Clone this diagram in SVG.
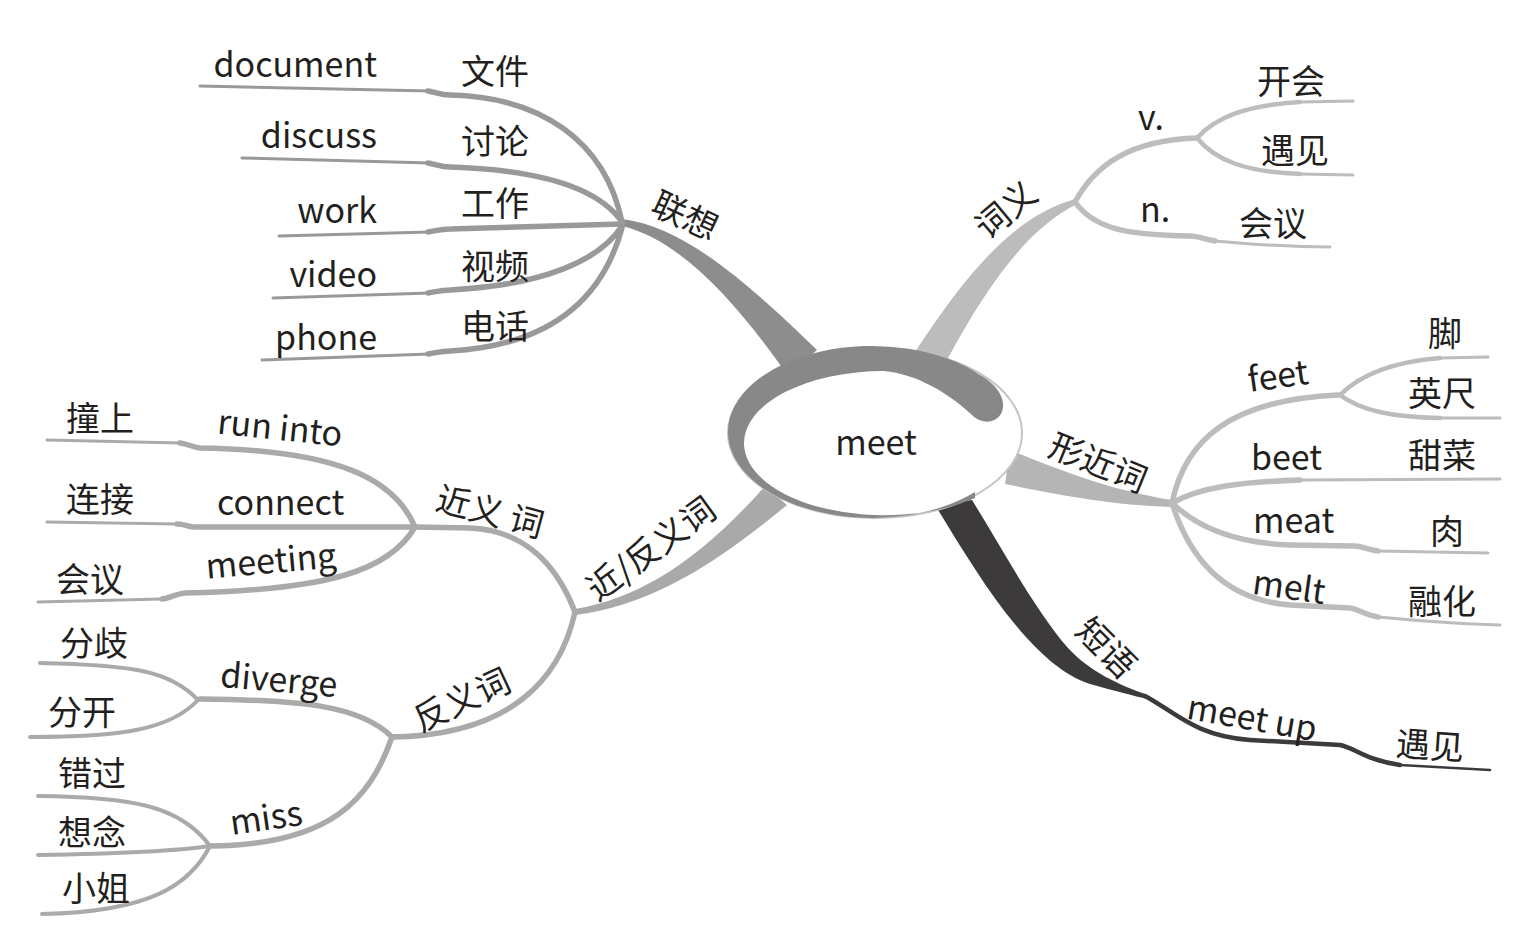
<svg xmlns="http://www.w3.org/2000/svg" width="1523" height="941" viewBox="0 0 1523 941">
<style>
text{font-family:"Noto Sans CJK SC","Noto Sans",sans-serif;font-size:34px;fill:#231f20}
.mid{text-anchor:middle}
.end{text-anchor:end}
.ln{fill:none;stroke-linecap:round;stroke-linejoin:round}
.g1{stroke:#999999}
.g2{stroke:#bdbdbd}
.g3{stroke:#bcbcbc}
.g4{stroke:#aaaaaa}
.tk{stroke-width:5.5}
.tn{stroke-width:3}
</style>
<rect width="1523" height="941" fill="#ffffff"/>
<g id="connectors">
  <path d="M622 219 C680 226 740 275 817 350 L788 376 C735 300 680 240 622 226 Z" fill="#8d8d8d"/>
  <path d="M1075 199 C1020 215 975 260 915 352 L947 360 C990 280 1030 228 1075 205 Z" fill="#bcbcbc"/>
  <path d="M1172 500 C1110 490 1060 470 1010 450 L1005 484 C1060 495 1110 505 1172 507 Z" fill="#b5b5b5"/>
  <path d="M935 505 C975 570 1030 665 1090 684 C1115 691 1135 696 1147 699 L1145 694 C1120 685 1090 672 1068 648 C1035 610 1003 550 972 500 Z" fill="#3c3a3b"/>
  <path d="M1145 696 C1175 712 1195 736 1250 740 L1340 745 C1355 748 1365 760 1400 765" class="ln" stroke="#3c3a3b" stroke-width="4.5"/>
  <path d="M1400 765 L1490 770" class="ln" stroke="#3c3a3b" stroke-width="2.5"/>
  <path d="M575 609 C640 598 700 560 765 486 L787 505 C710 568 650 605 575 615 Z" fill="#a9a9a9"/>

  <path class="ln g1 tn" d="M200 86 L430 91"/>
  <path class="ln g1 tk" d="M428 91 C436 92 440 95 450 95 C540 97 605 140 622 222"/>
  <path class="ln g1 tn" d="M242 158 L430 163"/>
  <path class="ln g1 tk" d="M428 163 C436 164 440 167 450 167 C545 170 600 190 622 222"/>
  <path class="ln g1 tn" d="M279 236 L430 232"/>
  <path class="ln g1 tk" d="M428 232 C436 231 440 229 450 229 L622 224"/>
  <path class="ln g1 tn" d="M273 298 L430 293"/>
  <path class="ln g1 tk" d="M428 293 C436 292 440 290 450 290 C545 285 600 260 622 226"/>
  <path class="ln g1 tn" d="M262 360 L430 354"/>
  <path class="ln g1 tk" d="M428 354 C436 353 440 351 450 351 C560 345 605 290 622 228"/>

  <path class="ln g2 tk" d="M1075 202 C1095 165 1130 140 1197 138"/>
  <path class="ln g2" stroke-width="4.5" d="M1197 138 C1215 118 1245 105 1300 102"/>
  <path class="ln g2 tn" d="M1300 102 L1353 101"/>
  <path class="ln g2" stroke-width="4.5" d="M1197 138 C1215 160 1245 172 1300 174"/>
  <path class="ln g2 tn" d="M1300 174 L1353 175"/>
  <path class="ln g2 tk" d="M1075 202 C1095 230 1130 235 1190 236 C1200 236 1205 240 1215 241"/>
  <path class="ln g2 tn" d="M1215 241 C1260 245 1300 247 1330 247"/>

  <path class="ln g3 tk" d="M1172 503 C1185 440 1230 400 1338 395"/>
  <path class="ln g3" stroke-width="4.5" d="M1340 395 C1360 375 1390 362 1440 358"/>
  <path class="ln g3 tn" d="M1440 358 L1488 357"/>
  <path class="ln g3" stroke-width="4.5" d="M1340 395 C1360 410 1390 417 1440 418"/>
  <path class="ln g3 tn" d="M1440 418 L1500 418"/>
  <path class="ln g3 tk" d="M1172 503 C1200 487 1240 482 1300 480"/>
  <path class="ln g3 tn" d="M1300 480 L1500 479"/>
  <path class="ln g3 tk" d="M1172 503 C1195 525 1230 543 1290 545 L1355 546 C1362 546 1368 550 1378 551"/>
  <path class="ln g3 tn" d="M1378 551 L1488 553"/>
  <path class="ln g3 tk" d="M1172 503 C1190 560 1225 600 1290 605 L1350 608 C1358 609 1365 615 1378 617"/>
  <path class="ln g3 tn" d="M1378 617 C1420 621 1460 624 1500 625"/>

  <path class="ln g4 tk" d="M575 612 C555 560 520 530 470 528 L415 527"/>
  <path class="ln g4 tk" d="M415 527 C395 480 340 450 200 448 C192 447 188 444 180 443"/>
  <path class="ln g4 tn" d="M180 443 L47 440"/>
  <path class="ln g4 tk" d="M415 527 L195 527 C188 527 185 524 177 524"/>
  <path class="ln g4 tn" d="M177 524 L47 522"/>
  <path class="ln g4 tk" d="M415 527 C390 570 330 590 185 593 C175 594 170 598 162 599"/>
  <path class="ln g4 tn" d="M162 599 L38 602"/>
  <path class="ln g4 tk" d="M575 612 C560 680 510 735 392 737"/>
  <path class="ln g4 tk" d="M392 737 C360 705 300 700 200 699"/>
  <path class="ln g4" stroke-width="4" d="M198 700 C170 670 130 665 40 663"/>
  <path class="ln g4" stroke-width="4" d="M198 700 C170 730 120 737 30 737"/>
  <path class="ln g4 tk" d="M392 737 C370 800 330 845 210 846"/>
  <path class="ln g4" stroke-width="4" d="M210 846 C180 805 130 797 38 796"/>
  <path class="ln g4" stroke-width="4" d="M210 846 C170 852 100 854 38 855"/>
  <path class="ln g4" stroke-width="4" d="M210 846 C190 885 150 912 42 914"/>
</g>

<g id="center">
  <ellipse cx="875" cy="433" rx="147" ry="85" fill="#ffffff" stroke="#c4c4c4" stroke-width="2"/>
  <path d="M975 492 A144 86 0 0 1 728 432 A144 86 0 0 1 980 375 C995 383 1007 398 1002 412 C996 425 980 424 971 414 C947 392 916 374 884 371 A140 72 0 0 0 744 443 A140 72 0 0 0 975 498 Z" fill="#888888"/>
  <text x="876" y="455" class="mid">meet</text>
</g>

<g id="n-lianxiang"><text transform="translate(685,216) rotate(25)" class="mid" y="12">联想</text></g>
<g id="n-document"><text x="377" y="77" class="end">document</text><text x="461" y="84">文件</text></g>
<g id="n-discuss"><text x="377" y="148" class="end">discuss</text><text x="461" y="154">讨论</text></g>
<g id="n-work"><text x="377" y="223" class="end">work</text><text x="461" y="216">工作</text></g>
<g id="n-video"><text x="377" y="287" class="end">video</text><text x="461" y="279">视频</text></g>
<g id="n-phone"><text x="377" y="350" class="end">phone</text><text x="461" y="339">电话</text></g>

<g id="n-ciyi"><text transform="translate(1006,210) rotate(-40)" class="mid" y="12">词义</text></g>
<g id="n-v"><text x="1138" y="130">v.</text></g>
<g id="n-kaihui"><text x="1257" y="94">开会</text></g>
<g id="n-yujian1"><text x="1261" y="163">遇见</text></g>
<g id="n-n"><text x="1140" y="222">n.</text></g>
<g id="n-huiyi1"><text x="1239" y="236">会议</text></g>

<g id="n-xingjinci"><text transform="translate(1098,463) rotate(22)" class="mid" y="12">形近词</text></g>
<g id="n-feet"><text transform="translate(1278,376) rotate(-8)" class="mid" y="12">feet</text></g>
<g id="n-jiao"><text x="1428" y="346">脚</text></g>
<g id="n-yingchi"><text x="1408" y="406">英尺</text></g>
<g id="n-beet"><text x="1251" y="470">beet</text><text x="1408" y="468">甜菜</text></g>
<g id="n-meat"><text x="1253" y="533">meat</text><text x="1430" y="544">肉</text></g>
<g id="n-melt"><text transform="translate(1289,587) rotate(8)" class="mid" y="12">melt</text><text x="1408" y="614">融化</text></g>

<g id="n-duanyu"><text transform="translate(1106,648) rotate(45)" class="mid" y="12">短语</text></g>
<g id="n-meetup"><text transform="translate(1252,718) rotate(10)" class="mid" y="12">meet up</text></g>
<g id="n-yujian2"><text transform="translate(1430,746) rotate(4)" class="mid" y="12">遇见</text></g>

<g id="n-jinfanyici"><text transform="translate(651,549) rotate(-36)" class="mid" y="12">近/反义词</text></g>
<g id="n-jinyici"><text transform="translate(490,512) rotate(15)" class="mid" y="12">近义 词</text></g>
<g id="n-runinto"><text transform="translate(280,428) rotate(6)" class="mid" y="12">run into</text><text x="66" y="431">撞上</text></g>
<g id="n-connect"><text x="217" y="515">connect</text><text x="66" y="512">连接</text></g>
<g id="n-meeting"><text transform="translate(271,561) rotate(-5)" class="mid" y="12">meeting</text><text x="56" y="592">会议</text></g>

<g id="n-fanyici"><text transform="translate(462,700) rotate(-25)" class="mid" y="12">反义词</text></g>
<g id="n-diverge"><text transform="translate(279,680) rotate(5)" class="mid" y="12">diverge</text></g>
<g id="n-fenqi"><text x="60" y="656">分歧</text></g>
<g id="n-fenkai"><text x="48" y="725">分开</text></g>
<g id="n-miss"><text transform="translate(266,818) rotate(-8)" class="mid" y="12">miss</text></g>
<g id="n-cuoguo"><text x="58" y="786">错过</text></g>
<g id="n-xiangnian"><text x="58" y="845">想念</text></g>
<g id="n-xiaojie"><text x="62" y="901">小姐</text></g>
</svg>
